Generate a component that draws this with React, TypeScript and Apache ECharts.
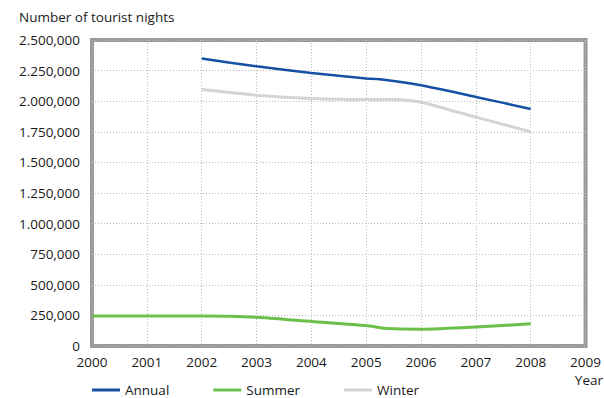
import React, { useEffect, useRef } from "react";
import * as echarts from "echarts";

const yTickLabels = ["0", "250,000", "500,000", "750,000", "1.000,000", "1.250,000", "1.500,000", "1.750,000", "2.000,000", "2.250,000", "2.500,000"];
const xTickLabels = ["2000", "2001", "2002", "2003", "2004", "2005", "2006", "2007", "2008", "2009"];

const annualYears = [2002, 2003, 2004, 2005, 2005.25, 2006, 2007, 2008];
const annualValues = [2348000, 2285000, 2230000, 2186000, 2180000, 2130000, 2035000, 1937000];

const summerYears = [2000, 2001, 2002, 2003, 2004, 2005, 2005.4, 2006, 2007, 2008];
const summerValues = [246000, 246000, 246000, 235000, 200000, 167000, 142000, 137000, 155000, 182000];

const winterYears = [2002, 2003, 2004, 2005, 2005.55, 2006, 2007, 2008];
const winterValues = [2095000, 2049000, 2022000, 2014000, 2014000, 1992000, 1870000, 1750000];

const FONT = "'Open Sans', 'Noto Sans', sans-serif";
const TXT = "#1a1a1a";

function pairs(xs: number[], ys: number[]) {
  return xs.map((x, i) => [x, ys[i]]);
}

export default function App() {
  const ref = useRef<HTMLDivElement>(null);
  useEffect(() => {
    if (!ref.current) return;
    const chart = echarts.init(ref.current, undefined, { renderer: "svg" });
    const lineSeries = (name: string, data: number[][], color: string, width: number) => ({
      name,
      type: "line",
      data,
      showSymbol: false,
      symbol: "none",
      smooth: 0.2,
      lineStyle: { color, width },
      itemStyle: { color },
    });
    chart.setOption({
      animation: false,
      textStyle: { fontFamily: FONT },
      grid: {
        left: 92,
        right: 17,
        top: 40,
        bottom: 52,
        show: true,
        borderColor: "#999999",
        borderWidth: 4,
        backgroundColor: "transparent",
      },
      title: {
        text: "Number of tourist nights",
        left: 14,
        top: 5,
        textStyle: { fontFamily: FONT, fontSize: 13.5, fontWeight: "normal", color: TXT },
      },
      xAxis: {
        type: "value",
        min: 2000,
        max: 2009,
        interval: 1,
        axisLine: { show: false },
        axisTick: { show: false },
        splitLine: { show: true, lineStyle: { type: [1, 2], color: "#bbbbbb", width: 1 } },
        axisLabel: {
          fontFamily: FONT,
          fontSize: 13.5,
          color: TXT,
          margin: 9,
          formatter: (v: number) => xTickLabels[Math.round(v - 2000)] ?? "",
        },
      },
      yAxis: {
        type: "value",
        min: 0,
        max: 2500000,
        interval: 250000,
        axisLine: { show: false },
        axisTick: { show: false },
        splitLine: { show: true, lineStyle: { type: [1, 2], color: "#bbbbbb", width: 1 } },
        axisLabel: {
          fontFamily: FONT,
          fontSize: 13.5,
          color: TXT,
          margin: 12,
          formatter: (v: number) => yTickLabels[Math.round(v / 250000)] ?? "",
        },
      },
      legend: {
        left: 92,
        top: 383,
        padding: 0,
        itemWidth: 28,
        itemHeight: 3,
        itemGap: 44,
        icon: "rect",
        textStyle: { fontFamily: FONT, fontSize: 13.5, lineHeight: 14, color: TXT },
        data: ["Annual", "Summer", "Winter"],
      },
      graphic: [
        {
          type: "text",
          right: 1,
          top: 373,
          style: { text: "Year", fontFamily: FONT, fontSize: 13.5, fill: TXT },
        },
      ],
      series: [
        lineSeries("Annual", pairs(annualYears, annualValues), "#1450a3", 2.5),
        lineSeries("Summer", pairs(summerYears, summerValues), "#6cc04a", 3),
        lineSeries("Winter", pairs(winterYears, winterValues), "#d4d4d4", 3),
      ],
    });
    return () => chart.dispose();
  }, []);
  return <div ref={ref} style={{ width: 604, height: 398, position: "absolute", left: 0, top: 0 }} />;
}
